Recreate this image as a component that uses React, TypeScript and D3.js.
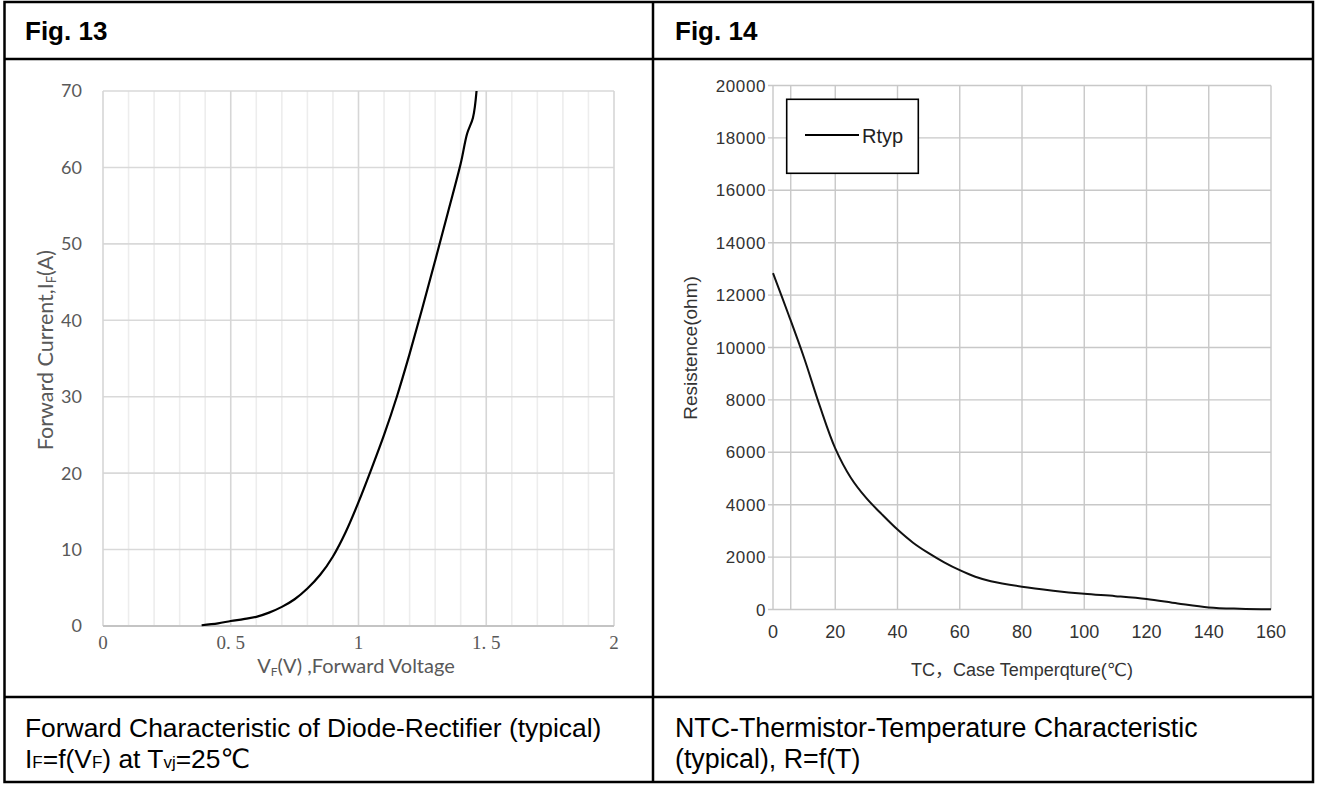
import React from 'react';
import * as d3 from 'd3';

// ---------- Fig. 13 : diode forward characteristic ----------
const diodeVF = [0.386, 0.45, 0.5, 0.55, 0.6, 0.65, 0.7, 0.75, 0.8, 0.85, 0.9, 0.95, 1.0, 1.05, 1.1, 1.15, 1.2, 1.25, 1.3, 1.35, 1.4, 1.425, 1.448, 1.462];
const diodeIF = [0.1, 0.35, 0.65, 0.9, 1.2, 1.75, 2.5, 3.5, 4.9, 6.7, 9.1, 12.3, 16.2, 20.5, 25.0, 30.0, 35.6, 41.6, 47.8, 54.1, 60.5, 64.4, 66.5, 70];
const diodeYTicks = [0, 10, 20, 30, 40, 50, 60, 70];
const diodeXTicks = [0, 0.5, 1, 1.5, 2];
const diodeXTickLabels = ['0', '0. 5', '1', '1. 5', '2'];
const diodeMinorX = [0.1, 0.2, 0.3, 0.4, 0.6, 0.7, 0.8, 0.9, 1.1, 1.2, 1.3, 1.4, 1.6, 1.7, 1.8, 1.9];

// ---------- Fig. 14 : NTC thermistor ----------
const ntcT = [0, 5, 10, 15, 20, 25, 30, 35, 40, 45, 50, 55, 60, 65, 70, 80, 90, 100, 110, 120, 130, 140, 150, 160];
const ntcR = [12838, 11250, 9600, 7780, 6150, 5030, 4250, 3630, 3050, 2550, 2150, 1800, 1500, 1250, 1080, 870, 720, 600, 510, 400, 230, 80, 30, 10];
const ntcXTicks = [0, 20, 40, 60, 80, 100, 120, 140, 160];
const ntcYTicks = [0, 2000, 4000, 6000, 8000, 10000, 12000, 14000, 16000, 18000, 20000];
const ntcExtraGridT = [5.7];
const ntcLegend = 'Rtyp';

const W = 1317;
const H = 785;
const SANS = "'Liberation Sans', Arial, 'DejaVu Sans', 'Noto Sans CJK SC', sans-serif";
const CAL = "Lato, 'Open Sans', 'DejaVu Sans', sans-serif";
const SERIF = "'Liberation Serif', 'DejaVu Serif', serif";

export default function App() {
  const xL = d3.scaleLinear().domain([0, 2]).range([103, 614]);
  const yL = d3.scaleLinear().domain([0, 70]).range([626, 91]);
  const xR = d3.scaleLinear().domain([0, 160]).range([773, 1271]);
  const yR = d3.scaleLinear().domain([0, 20000]).range([609.5, 85.5]);

  const diodePts = diodeVF.map((v, i) => [v, diodeIF[i]] as [number, number]);
  const ntcPts = ntcT.map((t, i) => [t, ntcR[i]] as [number, number]);

  const lineL = d3.line<[number, number]>().x(d => xL(d[0])).y(d => yL(d[1])).curve(d3.curveCatmullRom.alpha(0.5));
  const lineR = d3.line<[number, number]>().x(d => xR(d[0])).y(d => yR(d[1])).curve(d3.curveCatmullRom.alpha(0.5));

  const lx = 786.7, ly = 99.3, lw = 131.6, lh = 74;

  return (
    <svg width={W} height={H} style={{ position: 'absolute', left: 0, top: 0, display: 'block', background: '#fff' }}>
      <rect x={0} y={0} width={W} height={H} fill="#fff" />

      {/* ---------- left chart ---------- */}
      <g>
        {diodeMinorX.map(v => (
          <line key={'m' + v} x1={xL(v)} x2={xL(v)} y1={yL(70)} y2={yL(0)} stroke="#ededed" strokeWidth={1.6} />
        ))}
        {diodeYTicks.map(v => (
          <line key={'h' + v} x1={xL(0)} x2={xL(2)} y1={yL(v)} y2={yL(v)} stroke="#d9d9d9" strokeWidth={1.6} />
        ))}
        {diodeXTicks.map(v => (
          <line key={'v' + v} x1={xL(v)} x2={xL(v)} y1={yL(70)} y2={yL(0)} stroke="#d6d6d6" strokeWidth={1.6} />
        ))}
        <line x1={xL(0)} x2={xL(2)} y1={yL(0)} y2={yL(0)} stroke="#c4c4c4" strokeWidth={1.8} />
        <path d={lineL(diodePts) || ''} fill="none" stroke="#000" strokeWidth={2.2} strokeLinejoin="round" />
        {diodeYTicks.map(v => (
          <text key={'yl' + v} x={82} y={yL(v)} dy="0.36em" textAnchor="end" fontFamily={CAL} fontSize={18} fill="#595959">{v}</text>
        ))}
        {diodeXTicks.map((v, i) => (
          <text key={'xl' + v} x={xL(v)} y={642} dy="0.36em" textAnchor="middle" fontFamily={SERIF} fontSize={19} fill="#595959">{diodeXTickLabels[i]}</text>
        ))}
        <text x={356} y={666} dy="0.36em" textAnchor="middle" fontFamily={CAL} fontSize={20} fill="#595959">
          V<tspan fontSize={12} dy="3">F</tspan><tspan dy="-3">(V) ,Forward Voltage</tspan>
        </text>
        <text transform={`translate(45,350) rotate(-90)`} dy="0.36em" textAnchor="middle" fontFamily={CAL} fontSize={21.5} fill="#595959">
          Forward Current,I<tspan fontSize={13} dy="3">F</tspan><tspan dy="-3">(A)</tspan>
        </text>
      </g>

      {/* ---------- right chart ---------- */}
      <g>
        {ntcYTicks.map(v => (
          <line key={'rh' + v} x1={768} x2={xR(160)} y1={yR(v)} y2={yR(v)} stroke="#c8c8c8" strokeWidth={1.4} />
        ))}
        {ntcXTicks.concat(ntcExtraGridT).map(v => (
          <line key={'rv' + v} x1={xR(v)} x2={xR(v)} y1={yR(20000)} y2={yR(0)} stroke="#c8c8c8" strokeWidth={1.4} />
        ))}
        <path d={lineR(ntcPts) || ''} fill="none" stroke="#111" strokeWidth={2} strokeLinejoin="round" />
        {ntcYTicks.map(v => (
          <text key={'ryl' + v} x={766} y={yR(v)} dy="0.36em" textAnchor="end" fontFamily={SANS} fontSize={17} fill="#333" letterSpacing={0.6}>{v}</text>
        ))}
        {ntcXTicks.map(v => (
          <text key={'rxl' + v} x={xR(v)} y={632} dy="0.36em" textAnchor="middle" fontFamily={SANS} fontSize={18} fill="#333">{v}</text>
        ))}
        <text x={1022} y={670} dy="0.36em" textAnchor="middle" fontFamily={SANS} fontSize={18} fill="#333">TC，Case Temperqture(℃)</text>
        <text transform={`translate(690,348) rotate(-90)`} dy="0.36em" textAnchor="middle" fontFamily={SANS} fontSize={19} fill="#333">Resistence(ohm)</text>
        <rect x={lx} y={ly} width={lw} height={lh} fill="#fff" stroke="#000" strokeWidth={1.6} />
        <line x1={805} x2={859} y1={135} y2={135} stroke="#000" strokeWidth={1.8} />
        <text x={862} y={136} dy="0.36em" fontFamily={SANS} fontSize={20} fill="#222">{ntcLegend}</text>
      </g>

      {/* ---------- table frame ---------- */}
      <g stroke="#000" strokeWidth={2.5} fill="none">
        <rect x={4.5} y={2} width={1308.5} height={780} />
        <line x1={4.5} x2={1313} y1={59} y2={59} />
        <line x1={4.5} x2={1313} y1={697} y2={697} />
        <line x1={653} x2={653} y1={2} y2={782} />
      </g>

      {/* ---------- headers & captions ---------- */}
      <text x={25} y={39.5} fontFamily={SANS} fontWeight="bold" fontSize={26} fill="#000">Fig. 13</text>
      <text x={675} y={39.5} fontFamily={SANS} fontWeight="bold" fontSize={26} fill="#000">Fig. 14</text>

      <text x={25} y={737} fontFamily={SANS} fontSize={26.4} fill="#000">Forward Characteristic of Diode-Rectifier (typical)</text>
      <text x={25} y={768} fontFamily={SANS} fontSize={26.4} fill="#000">
        I<tspan fontSize={17}>F</tspan>=f(V<tspan fontSize={17}>F</tspan>) at T<tspan fontSize={17}>vj</tspan>=25℃
      </text>

      <text x={675} y={737} fontFamily={SANS} fontSize={26.8} fill="#000">NTC-Thermistor-Temperature Characteristic</text>
      <text x={675} y={768} fontFamily={SANS} fontSize={26.8} fill="#000">(typical), R=f(T)</text>
    </svg>
  );
}
